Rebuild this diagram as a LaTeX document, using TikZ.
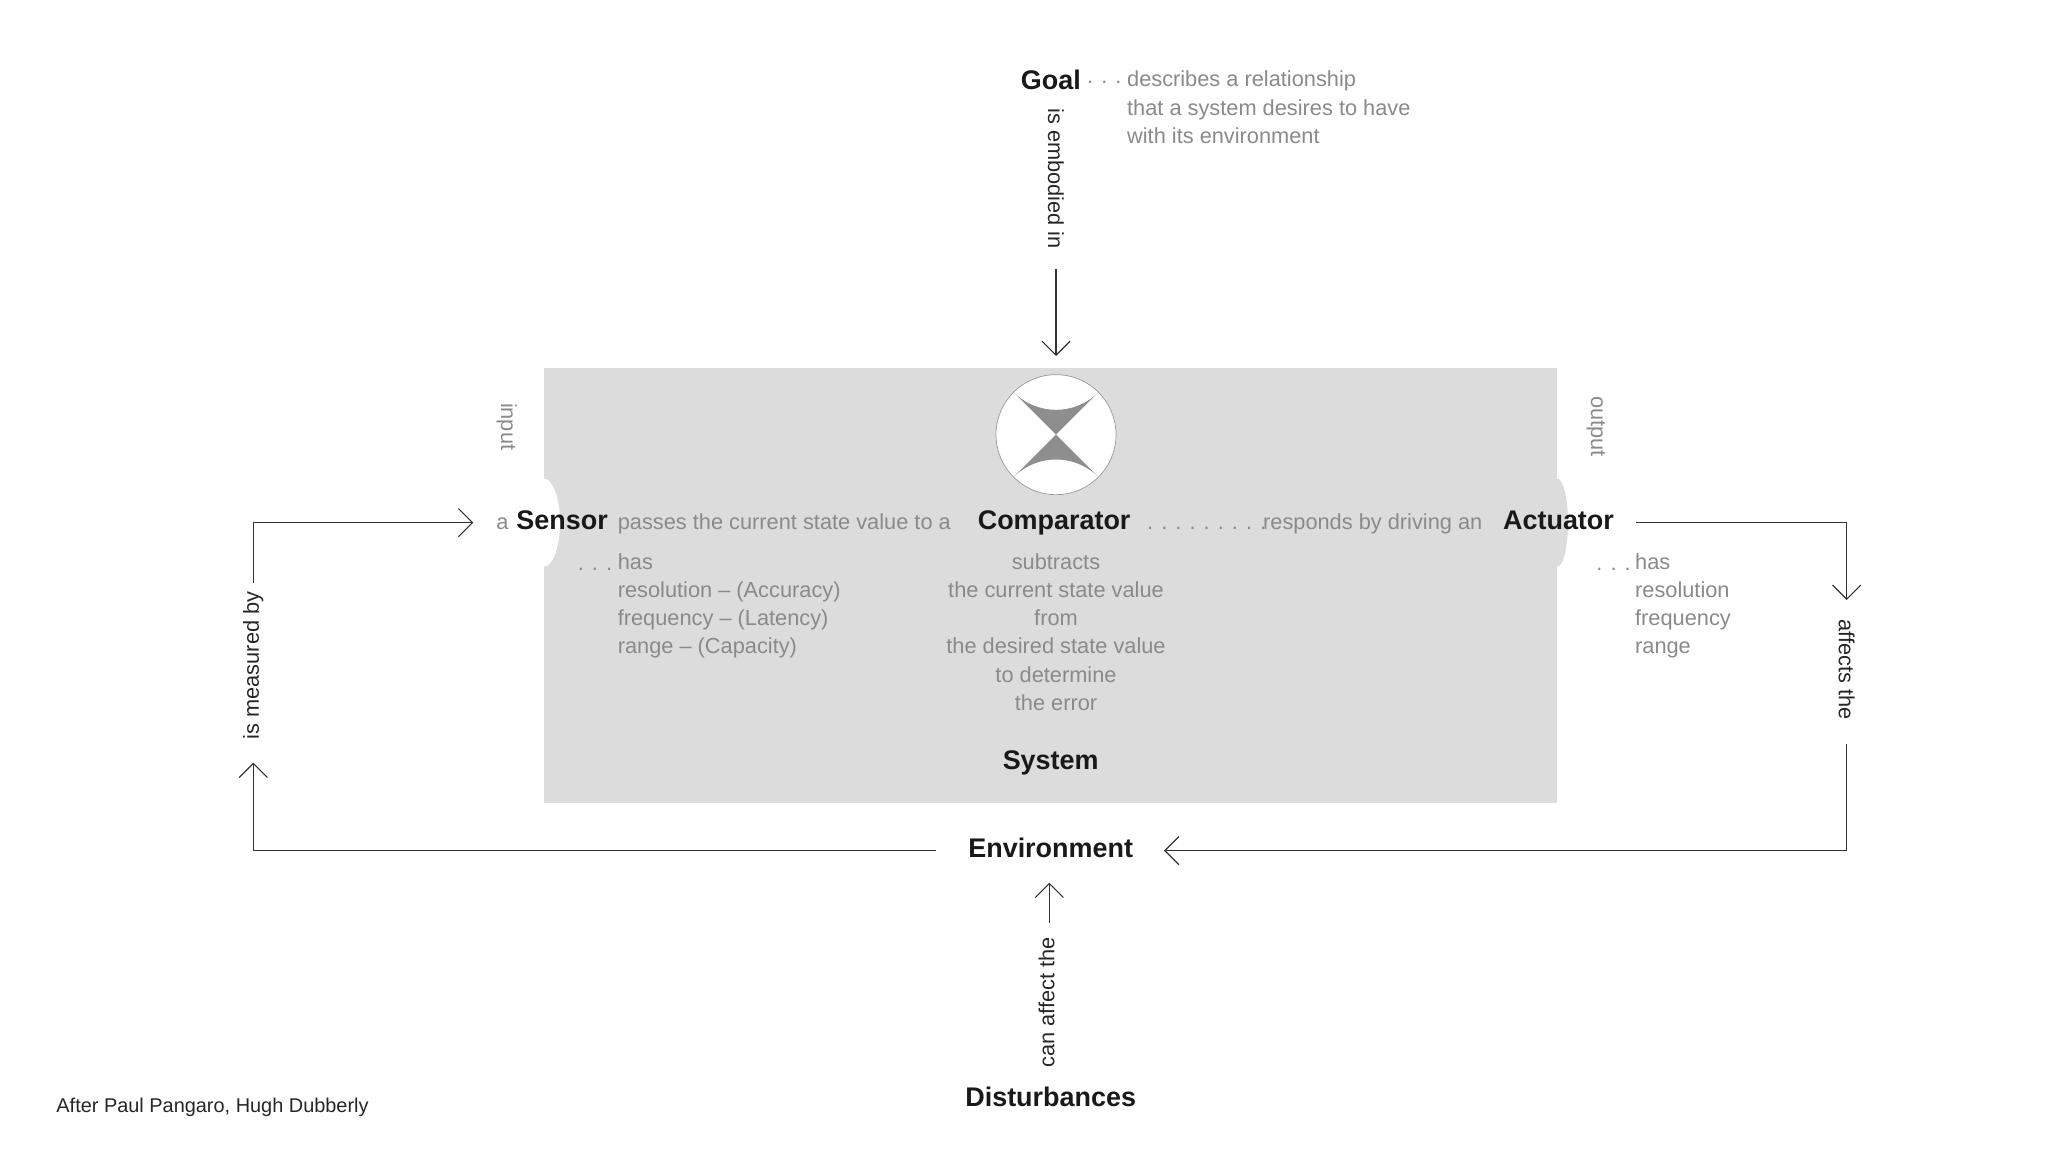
\documentclass[tikz,border=0pt]{standalone}
\usepackage{fontspec}
\setmainfont{Liberation Sans}
\usetikzlibrary{arrows.meta}
\definecolor{sysgray}{HTML}{DCDCDD}
\definecolor{txtgray}{HTML}{8A8A8A}
\definecolor{wedge}{HTML}{8E8E8E}
\begin{document}
\begin{tikzpicture}[x=0.02cm,y=-0.02cm,
  bold/.style={font=\fontsize{11.5}{13}\selectfont\bfseries,text=black!90,inner sep=0pt},
  gr/.style={font=\fontsize{9.3}{12}\selectfont,text=txtgray,inner sep=0pt},
  grml/.style={gr,font=\fontsize{9.3}{12}\selectfont},
  blk/.style={font=\fontsize{9.3}{12}\selectfont,text=black!85,inner sep=0pt},
  conn/.style={draw=black!80,line width=0.5pt},
  tip/.style={-{Straight Barb[length=6pt,width=12pt,line width=0.5pt]}}]
\useasboundingbox (0,0) rectangle (1536,864);
% system box
\fill[sysgray] (408,276) rectangle (1168,602);
\fill[white] (408,392) ellipse [x radius=12, y radius=33];
\fill[sysgray] (1168,392) ellipse [x radius=8, y radius=33];
% comparator symbol
\node[circle,minimum size=90*0.02cm,fill=white,draw=black!40,line width=0.3pt,inner sep=0pt] (cmpsym) at (792,326) {};
\fill[wedge] (792,326) -- ++(-31.8,-31.8) arc[start angle=135,end angle=45,radius=45] -- cycle;
\fill[wedge] (792,326) -- ++(-31.8,31.8) arc[start angle=225,end angle=315,radius=45] -- cycle;
% goal
\node[bold,anchor=east] (goal) at (811,60) {Goal};
\node[gr,anchor=west] (gdots) at (815,62) {. . .};
\node[grml,anchor=north west,align=left] (gtext) at (845,53) {describes a relationship\\that a system desires to have\\with its environment};
\node[blk,rotate=-90] (emb) at (792,134) {is embodied in};
\coordinate (embend) at (792,202);
\coordinate (cmptop) at (792,267);
\draw[conn,tip] (embend) -- (cmptop);
% input/output
\node[gr,rotate=-90] (inp) at (380,320) {input};
\node[gr,rotate=-90] (outp) at (1197,320) {output};
% main line
\node[gr,anchor=base west] (a) at (372,397) {a};
\node[bold,anchor=base west] (sensor) at (387,397) {Sensor};
\node[gr,anchor=base west] (pass) at (463,397) {passes the current state value to a};
\node[bold,anchor=base west] (comp) at (733,397) {Comparator};
\node[gr,anchor=base west] (dots) at (860,397) {. . . . . . . . .};
\node[gr,anchor=base west] (resp) at (947,397) {responds by driving an};
\node[bold,anchor=base west] (act) at (1127,397) {Actuator};
% sensor details
\node[gr,anchor=base west] (sdots) at (433,428) {. . .};
\node[grml,anchor=north west,align=left] (stext) at (463,415) {has\\resolution – (Accuracy)\\frequency – (Latency)\\range – (Capacity)};
% comparator details
\node[grml,anchor=north,align=center] (ctext) at (792,415) {subtracts\\the current state value\\from\\the desired state value\\to determine\\the error};
% actuator details
\node[gr,anchor=base west] (adots) at (1197,428) {. . .};
\node[grml,anchor=north west,align=left] (atext) at (1226,415) {has\\resolution\\frequency\\range};
\node[bold] (system) at (788,572) {System};
% environment, disturbances
\node[bold] (env) at (788,636) {Environment};
\node[bold] (dist) at (788,823) {Disturbances};
\node[blk,rotate=90] (canaff) at (785,752) {can affect the};
\coordinate (canend) at (787,692);
\coordinate (envbot) at (787,662);
\draw[conn,tip] (canend) -- (envbot);
% left loop
\coordinate (envL) at (702,638);
\coordinate (lbot) at (190,572);
\coordinate (ltop) at (190,437);
\coordinate (sensin) at (355,392);
\draw[conn,tip] (envL) -- (190,638) -- (lbot);
\draw[conn,tip] (ltop) -- (190,392) -- (sensin);
\node[blk,rotate=90] (meas) at (190,499) {is measured by};
% right loop
\coordinate (actout) at (1227,392);
\coordinate (rtop) at (1385,450);
\coordinate (rbot) at (1385,558);
\coordinate (envR) at (873,638);
\draw[conn,tip] (actout) -- (1385,392) -- (rtop);
\draw[conn,tip] (rbot) -- (1385,638) -- (envR);
\node[blk,rotate=-90] (aff) at (1385,502) {affects the};
% credit
\node[blk,anchor=base west,font=\fontsize{8.5}{10}\selectfont] (credit) at (42,834) {After Paul Pangaro, Hugh Dubberly};
\end{tikzpicture}
\end{document}
